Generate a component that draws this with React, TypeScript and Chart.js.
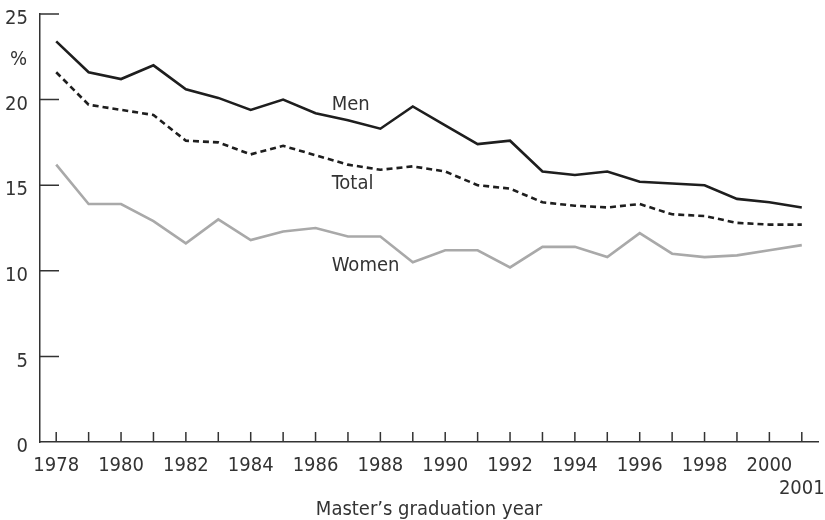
import React, { useEffect, useRef } from 'react';
import { Chart, registerables } from 'chart.js';

Chart.register(...registerables);

const years = [
  1978, 1979, 1980, 1981, 1982, 1983, 1984, 1985, 1986, 1987, 1988, 1989,
  1990, 1991, 1992, 1993, 1994, 1995, 1996, 1997, 1998, 1999, 2000, 2001,
];
const men = [
  23.4, 21.6, 21.2, 22.0, 20.6, 20.1, 19.4, 20.0, 19.2, 18.8, 18.3, 19.6,
  18.5, 17.4, 17.6, 15.8, 15.6, 15.8, 15.2, 15.1, 15.0, 14.2, 14.0, 13.7,
];
const total = [
  21.6, 19.7, 19.4, 19.1, 17.6, 17.5, 16.8, 17.3, 16.75, 16.2, 15.9, 16.1,
  15.8, 15.0, 14.8, 14.0, 13.8, 13.7, 13.9, 13.3, 13.2, 12.8, 12.7, 12.7,
];
const women = [
  16.2, 13.9, 13.9, 12.9, 11.6, 13.0, 11.8, 12.3, 12.5, 12.0, 12.0, 10.5,
  11.2, 11.2, 10.2, 11.4, 11.4, 10.8, 12.2, 11.0, 10.8, 10.9, 11.2, 11.5,
];
const yTicks = [0, 5, 10, 15, 20, 25];
const seriesNames = ['Men', 'Total', 'Women'];
const xTitle = 'Master\u2019s graduation year';
const unitLabel = '%';

const FONT = '"DejaVu Sans Condensed", "Liberation Sans Narrow", "Open Sans", sans-serif';
const FONT_SIZE = 20;
const TEXT = '#333333';
const AXIS = '#333333';

// label anchors in data space: [category index, value]
const labelAnchors: [number, number][] = [
  [8.5, 19.7],
  [8.5, 15.1],
  [8.5, 10.3],
];

const axisMarks = {
  id: 'axisMarks',
  afterDraw(chart: any) {
    const { ctx, chartArea, scales } = chart;
    const x = scales.x;
    const y = scales.y;
    ctx.save();
    ctx.strokeStyle = AXIS;
    ctx.lineWidth = 1.5;
    ctx.beginPath();
    x.ticks.forEach((_t: any, i: number) => {
      const px = x.getPixelForTick(i);
      ctx.moveTo(px, chartArea.bottom);
      ctx.lineTo(px, chartArea.bottom - 10);
    });
    y.ticks.forEach((t: any, i: number) => {
      if (t.value === 0) return;
      const py = y.getPixelForTick(i);
      ctx.moveTo(chartArea.left, py);
      ctx.lineTo(chartArea.left + 19, py);
    });
    ctx.stroke();

    ctx.fillStyle = TEXT;
    ctx.font = `${FONT_SIZE}px ${FONT}`;
    ctx.textBaseline = 'middle';
    ctx.textAlign = 'left';
    seriesNames.forEach((name, i) => {
      const [xi, v] = labelAnchors[i];
      ctx.fillText(name, x.getPixelForValue(xi), y.getPixelForValue(v));
    });
    ctx.textAlign = 'right';
    ctx.fillText(unitLabel, chartArea.left - 13, y.getPixelForValue(22.3));
    ctx.restore();
  },
};

export default function App() {
  const ref = useRef<HTMLCanvasElement | null>(null);

  useEffect(() => {
    document.body.style.margin = '0';
    const canvas = ref.current;
    if (!canvas) return;
    const chart = new Chart(canvas, {
      type: 'line',
      data: {
        labels: years.map(String),
        datasets: [
          {
            label: seriesNames[0],
            data: men,
            borderColor: '#1e1e1e',
            borderWidth: 2.6,
          },
          {
            label: seriesNames[1],
            data: total,
            borderColor: '#1e1e1e',
            borderWidth: 2.6,
            borderDash: [6, 4],
          },
          {
            label: seriesNames[2],
            data: women,
            borderColor: '#a9a9a9',
            borderWidth: 2.6,
          },
        ],
      },
      options: {
        animation: false,
        responsive: false,
        maintainAspectRatio: false,
        layout: { padding: { top: 14, right: 7, left: 0, bottom: 0 } },
        plugins: {
          legend: { display: false },
          tooltip: { enabled: false },
        },
        elements: {
          point: { radius: 0 },
          line: { tension: 0, borderCapStyle: 'butt', borderJoinStyle: 'miter' },
        },
        scales: {
          x: {
            type: 'category',
            offset: true,
            grid: { display: false, drawTicks: false },
            border: { display: true, color: AXIS, width: 1.5 },
            ticks: {
              autoSkip: false,
              maxRotation: 0,
              minRotation: 0,
              padding: 12,
              color: TEXT,
              font: { family: FONT, size: FONT_SIZE, lineHeight: 1.15 },
              callback: (_v: any, i: number) => {
                const yr = years[i];
                if (i === years.length - 1) return ['', String(yr)];
                return yr % 2 === 0 ? String(yr) : '';
              },
            },
            title: {
              display: true,
              text: xTitle,
              color: TEXT,
              font: { family: FONT, size: FONT_SIZE, lineHeight: 1.0 },
              padding: { top: 0, bottom: 0 },
            },
            afterFit: (s: any) => {
              s.height = 78;
              s.paddingLeft = 0;
              s.paddingRight = 0;
            },
          },
          y: {
            min: 0,
            max: 25,
            afterBuildTicks: (s: any) => {
              s.ticks = yTicks.map((v) => ({ value: v }));
            },
            grid: { display: false, drawTicks: false },
            border: { display: true, color: AXIS, width: 1.5 },
            ticks: {
              padding: 12,
              labelOffset: 5,
              color: TEXT,
              font: { family: FONT, size: FONT_SIZE },
            },
            afterFit: (s: any) => {
              s.width = 40;
              s.paddingTop = 0;
              s.paddingBottom = 0;
            },
          },
        },
      },
      plugins: [axisMarks],
    });
    return () => chart.destroy();
  }, []);

  return (
    <div style={{ width: 825, height: 520 }}>
      <canvas ref={ref} width={825} height={520} style={{ display: 'block', width: 825, height: 520 }} />
    </div>
  );
}
